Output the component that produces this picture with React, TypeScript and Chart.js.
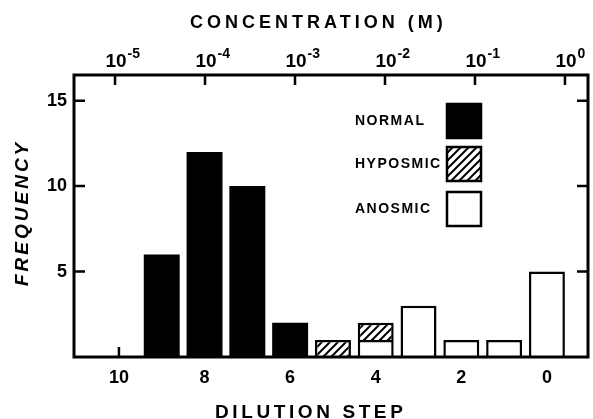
import React, { useEffect, useRef } from 'react';
import { Chart, registerables } from 'chart.js';

Chart.register(...registerables);

// ---- data ----
const dilutionSteps = [9, 8, 7, 6, 5, 4, 3, 2, 1, 0];
const normalCounts = [6, 12, 10, 2, null, null, null, null, null, null];
const anosmicCounts = [null, null, null, null, null, 1, 3, 1, 1, 5];
const hyposmicCounts = [null, null, null, null, 1, 1, null, null, null, null];
const dilutionTicks = [10, 8, 6, 4, 2, 0];
const concentrationExponents = [-5, -4, -3, -2, -1, 0];
const frequencyTicks = [5, 10, 15];
const legendLabels = ['NORMAL', 'HYPOSMIC', 'ANOSMIC'];

const FONT = '"Liberation Sans", Arial, sans-serif';

function makeHatch(ctx: CanvasRenderingContext2D) {
  const s = 8;
  const c = document.createElement('canvas');
  c.width = s;
  c.height = s;
  const g = c.getContext('2d')!;
  g.fillStyle = '#fff';
  g.fillRect(0, 0, s, s);
  g.strokeStyle = '#000';
  g.lineWidth = 2;
  g.beginPath();
  g.moveTo(-1, s + 1);
  g.lineTo(s + 1, -1);
  g.moveTo(-s / 2 - 1, s / 2 + 1);
  g.lineTo(s / 2 + 1, -s / 2 - 1);
  g.moveTo(s / 2 - 1, s * 1.5 + 1);
  g.lineTo(s * 1.5 + 1, s / 2 - 1);
  g.stroke();
  return ctx.createPattern(c, 'repeat')!;
}

export default function App() {
  const ref = useRef<HTMLCanvasElement>(null);

  useEffect(() => {
    const canvas = ref.current!;
    const ctx = canvas.getContext('2d')!;
    const hatch = makeHatch(ctx);

    const toPoints = (vals: (number | null)[]) =>
      dilutionSteps.map((s, i) => ({ x: s, y: vals[i] }));

    const tickPlugin = {
      id: 'innerTicks',
      beforeDatasetsDraw(chart: any) {
        const { ctx: c, chartArea: ca, scales } = chart;
        c.save();
        c.strokeStyle = '#000';
        c.lineWidth = 2.5;
        c.beginPath();
        for (const v of dilutionTicks) {
          const px = scales.x.getPixelForValue(v);
          c.moveTo(px, ca.bottom);
          c.lineTo(px, ca.bottom - 10);
        }
        for (const e of concentrationExponents) {
          const px = scales.x2.getPixelForValue(e);
          c.moveTo(px, ca.top);
          c.lineTo(px, ca.top + 10);
        }
        for (const v of frequencyTicks) {
          const py = scales.y.getPixelForValue(v);
          c.moveTo(ca.left, py);
          c.lineTo(ca.left + 11, py);
          c.moveTo(ca.right, py);
          c.lineTo(ca.right - 11, py);
        }
        c.stroke();
        c.restore();
      },
      afterDatasetsDraw(chart: any) {
        const { ctx: c, chartArea: ca } = chart;
        c.save();
        // frame
        c.strokeStyle = '#000';
        c.lineWidth = 3;
        c.strokeRect(ca.left, ca.top, ca.right - ca.left, ca.bottom - ca.top);
        // legend
        const fills = ['#000', hatch, '#fff'];
        const tops = [29, 72, 117];
        c.font = `bold 14px ${FONT}`;
        (c as any).letterSpacing = '1.5px';
        c.textBaseline = 'middle';
        c.textAlign = 'left';
        legendLabels.forEach((lab, i) => {
          const bx = ca.left + 373;
          const by = ca.top + tops[i];
          c.fillStyle = fills[i];
          c.fillRect(bx, by, 34, 34);
          c.lineWidth = 2.5;
          c.strokeStyle = '#000';
          c.strokeRect(bx, by, 34, 34);
          c.fillStyle = '#000';
          c.fillText(lab, ca.left + 281, by + 17);
        });
        c.restore();
      },
      afterDraw(chart: any) {
        const { ctx: c, chartArea: ca, scales } = chart;
        c.save();
        c.fillStyle = '#000';
        // top tick labels 10^n
        for (const e of concentrationExponents) {
          const px = scales.x2.getPixelForValue(e);
          c.font = `bold 19px ${FONT}`;
          (c as any).letterSpacing = '0px';
          c.textAlign = 'center';
          c.textBaseline = 'alphabetic';
          const w = c.measureText('10').width;
          c.fillText('10', px + 1, ca.top - 8);
          c.font = `bold 14px ${FONT}`;
          c.textAlign = 'left';
          c.fillText(String(e), px + 1 + w / 2 + 1, ca.top - 17);
        }
        // axis titles
        (c as any).letterSpacing = '4px';
        c.font = `bold 18px ${FONT}`;
        c.textAlign = 'left';
        c.textBaseline = 'alphabetic';
        c.fillText('CONCENTRATION (M)', 190, 28);
        (c as any).letterSpacing = '3.6px';
        c.font = `bold 19px ${FONT}`;
        c.fillText('DILUTION STEP', 215, 418);
        (c as any).letterSpacing = '3px';
        c.font = `italic bold 19px ${FONT}`;
        c.translate(28, 286);
        c.rotate(-Math.PI / 2);
        c.fillText('FREQUENCY', 0, 0);
        c.restore();
      },
    };

    const chart = new Chart(ctx, {
      type: 'bar',
      data: {
        datasets: [
          {
            label: 'NORMAL',
            data: toPoints(normalCounts),
            backgroundColor: '#000',
            borderColor: '#000',
            borderWidth: 0,
            xAxisID: 'x',
            yAxisID: 'y',
          },
          {
            label: 'ANOSMIC',
            data: toPoints(anosmicCounts),
            backgroundColor: '#fff',
            borderColor: '#000',
            borderWidth: 2.5,
            xAxisID: 'x',
            yAxisID: 'y',
          },
          {
            label: 'HYPOSMIC',
            data: toPoints(hyposmicCounts),
            backgroundColor: hatch,
            borderColor: '#000',
            borderWidth: 2.5,
            xAxisID: 'x',
            yAxisID: 'y',
          },
        ] as any,
      },
      options: {
        responsive: false,
        animation: false,
        devicePixelRatio: 1,
        barPercentage: 0.84,
        categoryPercentage: 1,
        layout: { padding: { left: 0, right: 5, top: 0, bottom: 0 } },
        plugins: {
          legend: { display: false },
          tooltip: { enabled: false },
        },
        scales: {
          x: {
            type: 'linear',
            position: 'bottom',
            reverse: true,
            offset: false,
            min: -0.96,
            max: 11.05,
            stacked: true,
            grid: { display: false, drawTicks: false, offset: false },
            border: { display: false },
            afterBuildTicks: (s: any) => {
              s.ticks = dilutionTicks.map((v) => ({ value: v }));
            },
            afterFit: (s: any) => {
              s.height = 62;
            },
            ticks: {
              color: '#000',
              font: { family: FONT, size: 18, weight: 'bold' },
              padding: 10,
              maxRotation: 0,
              autoSkip: false,
              callback: (v: any) => String(v),
            },
          },
          x2: {
            type: 'linear',
            position: 'top',
            offset: false,
            min: -5.456,
            max: 0.256,
            grid: { display: false, drawTicks: false, offset: false },
            border: { display: false },
            afterBuildTicks: (s: any) => {
              s.ticks = concentrationExponents.map((v) => ({ value: v }));
            },
            afterFit: (s: any) => {
              s.height = 75;
            },
            ticks: { display: false },
          },
          y: {
            type: 'linear',
            position: 'left',
            min: 0,
            max: 16.5,
            stacked: true,
            grid: { display: false, drawTicks: false },
            border: { display: false },
            afterBuildTicks: (s: any) => {
              s.ticks = frequencyTicks.map((v) => ({ value: v }));
            },
            afterFit: (s: any) => {
              s.width = 74;
            },
            ticks: {
              color: '#000',
              font: { family: FONT, size: 18, weight: 'bold' },
              padding: 7,
              callback: (v: any) => String(v),
            },
          },
        } as any,
      },
      plugins: [tickPlugin],
    });

    return () => chart.destroy();
  }, []);

  return (
    <div
      style={{
        position: 'fixed',
        left: 0,
        top: 0,
        width: 593,
        height: 419,
        background: '#fff',
      }}
    >
      <canvas ref={ref} width={593} height={419} style={{ display: 'block' }} />
    </div>
  );
}
